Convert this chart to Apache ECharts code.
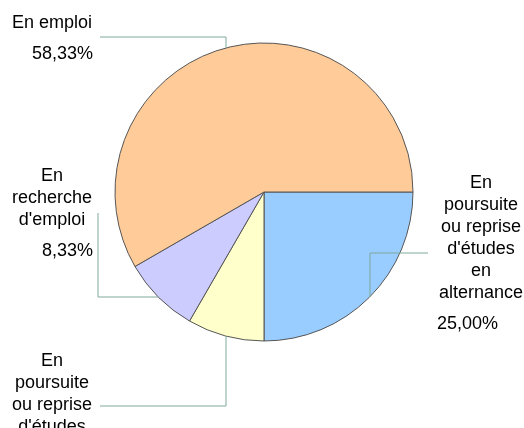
<!DOCTYPE html>
<html>
<head>
<meta charset="utf-8">
<script src="https://cdn.jsdelivr.net/npm/echarts@6/dist/echarts.min.js"></script>
<style>
  html, body { margin: 0; padding: 0; background: #fff; }
  #chart { width: 524px; height: 428px; }
</style>
</head>
<body>
<div id="chart"></div>
<script>
// données (effectifs)
var categories = ['En poursuite ou reprise d\'études en alternance', 'En poursuite ou reprise d\'études', 'En recherche d\'emploi', 'En emploi']
var labelLines = [
  ['En', 'poursuite', 'ou reprise', 'd\'études', 'en', 'alternance'],
  ['En', 'poursuite', 'ou reprise', 'd\'études'],
  ['En', 'recherche', 'd\'emploi'],
  ['En emploi']
]
var counts = [3, 1, 1, 7]
var colors = ['#99ccff', '#ffffcc', '#ccccff', '#ffcc99']

var total = counts.reduce(function (a, b) { return a + b }, 0)
var center = [264, 192]
var radius = 149
var lineColor = '#7fa99b'

// point sur le bord du camembert
function edgeAtX(x, down) {
  var dx = x - center[0]
  var dy = Math.sqrt(radius * radius - dx * dx)
  return [x, down ? center[1] + dy : center[1] - dy]
}
function edgeAtY(y, right) {
  var dy = y - center[1]
  var dx = Math.sqrt(radius * radius - dy * dy)
  return [right ? center[0] + dx : center[0] - dx, y]
}

// placement des étiquettes
var layouts = [
  { x: 437, y: 172, align: 'left', pts: [edgeAtX(370, true), [370, 253], [428, 253]] },
  { x: 93, y: 350, align: 'right', pts: [edgeAtX(226, true), [226, 406], [100, 406]] },
  { x: 93, y: 165, align: 'right', pts: [edgeAtY(297, false), [98, 297], [98, 213]] },
  { x: 93, y: 12, align: 'right', pts: [edgeAtX(226, false), [226, 37], [100, 37]] }
]

var chart = echarts.init(document.getElementById('chart'))
chart.setOption({
  animation: false,
  series: [
    // secteurs
    {
      type: 'pie',
      center: center,
      radius: radius,
      startAngle: 0,
      clockwise: true,
      silent: true,
      data: categories.map(function (name, i) {
        return { name: name, value: counts[i], itemStyle: { color: colors[i] } }
      }),
      itemStyle: { borderColor: '#555', borderWidth: 1 },
      label: { show: false },
      labelLine: { show: false }
    },
    // étiquettes + traits de rappel (au-dessus des secteurs)
    {
      type: 'pie',
      z: 3,
      center: center,
      radius: radius,
      startAngle: 0,
      clockwise: true,
      avoidLabelOverlap: false,
      silent: true,
      data: categories.map(function (name, i) {
        return { name: name, value: counts[i], label: { width: i === 0 ? 88 : 82 } }
      }),
      itemStyle: { color: 'rgba(0,0,0,0)', borderWidth: 0 },
      label: {
        show: true,
        position: 'outside',
        color: '#000',
        fontFamily: 'Liberation Sans',
        fontSize: 18,
        overflow: 'none',
        formatter: function (p) {
          var pct = (p.value / total * 100).toFixed(2).replace('.', ',') + '%'
          var names = labelLines[p.dataIndex].map(function (s) { return '{n|' + s + '}' }).join('\n')
          var side = p.dataIndex === 0 ? 'pl' : 'pr'
          return names + '\n{' + side + '|' + pct + '}'
        },
        rich: {
          n: { fontSize: 18, lineHeight: 22, align: 'center', fontFamily: 'Liberation Sans', color: '#000' },
          pl: { fontSize: 18, lineHeight: 40, align: 'left', fontFamily: 'Liberation Sans', color: '#000' },
          pr: { fontSize: 18, lineHeight: 40, align: 'right', fontFamily: 'Liberation Sans', color: '#000' }
        }
      },
      labelLine: {
        show: true,
        smooth: false,
        lineStyle: { color: lineColor, width: 1 }
      },
      labelLayout: function (params) {
        var l = layouts[params.dataIndex]
        return {
          x: l.x,
          y: l.y,
          align: l.align,
          verticalAlign: 'top',
          hideOverlap: false,
          labelLinePoints: l.pts
        }
      }
    }
  ]
})
</script>
</body>
</html>
